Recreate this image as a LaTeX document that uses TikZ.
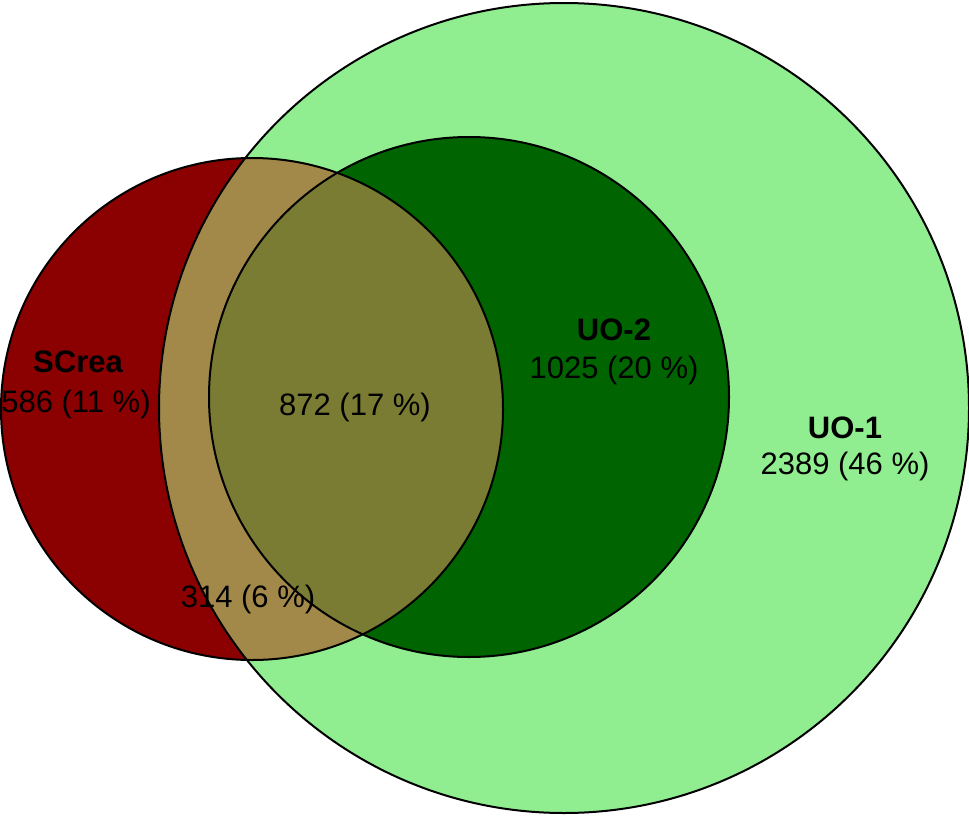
\documentclass[tikz,border=0pt]{standalone}
\usepackage{fontspec}
\setmainfont{Liberation Sans}
\definecolor{uoone}{RGB}{144,238,144}
\definecolor{uotwo}{RGB}{0,100,0}
\definecolor{screa}{RGB}{139,0,0}
\definecolor{tanmix}{RGB}{162,137,74}
\definecolor{olivemix}{RGB}{122,124,51}
\tikzset{
  outline/.style={draw=black, line width=2pt},
  lbl/.style={font=\fontsize{31}{36}\selectfont, inner sep=0pt, text=black},
  title/.style={font=\fontsize{31}{36}\selectfont\bfseries, inner sep=0pt, text=black}
}
\begin{document}
\begin{tikzpicture}[x=1pt,y=-1pt]
\useasboundingbox (0,0) rectangle (969,816);
\coordinate (c1) at (564,408);
\coordinate (c2) at (469,397);
\coordinate (c3) at (252,409);
% base fills
\fill[uoone] (c1) circle[radius=405pt];
\fill[uotwo] (c2) circle[radius=260pt];
\fill[screa] (c3) circle[radius=251pt];
% intersections
\begin{scope}
  \clip (c3) circle[radius=251pt];
  \fill[tanmix] (c1) circle[radius=405pt];
  \clip (c2) circle[radius=260pt];
  \fill[olivemix] (c1) circle[radius=405pt];
\end{scope}
% outlines
\draw[outline] (c1) circle[radius=405pt];
\draw[outline] (c2) circle[radius=260pt];
\draw[outline] (c3) circle[radius=251pt];
% labels
\node[title] (tsc) at (78,362) {SCrea};
\node[lbl] (nsc) at (76,404) {586 (11 \%)};
\node[lbl] (nall) at (355,407) {872 (17 \%)};
\node[lbl] (nsu1) at (248,599) {314 (6 \%)};
\node[title] (tu2) at (614,330) {UO-2};
\node[lbl] (nu2) at (614,370) {1025 (20 \%)};
\node[title] (tu1) at (845,428) {UO-1};
\node[lbl] (nu1) at (845,466) {2389 (46 \%)};
\end{tikzpicture}
\end{document}
